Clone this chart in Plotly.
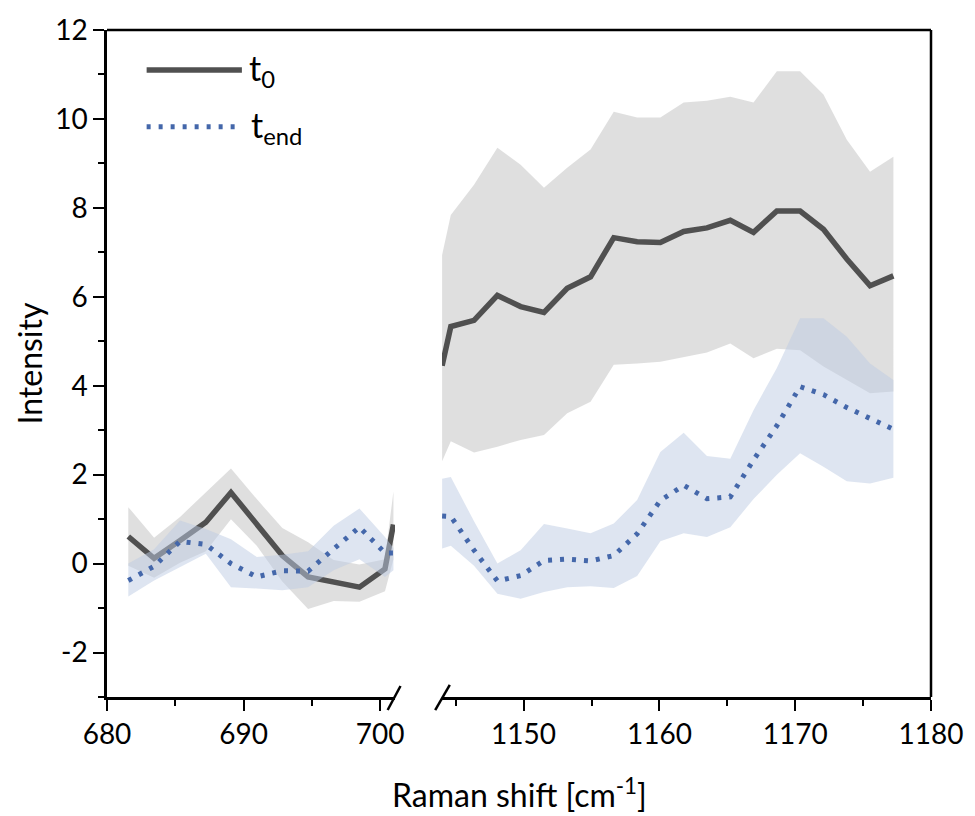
import plotly.graph_objects as go

# ---------------- data ----------------
# left panel (680-701 cm-1)
LX = [681.56, 683.45, 685.35, 687.24, 689.08, 690.97, 692.84, 694.73, 696.60, 698.49, 700.36, 700.98]
T0_L = [0.61, 0.12, 0.52, 0.93, 1.60, 0.88, 0.18, -0.30, -0.41, -0.53, -0.12, 0.88]
T0_L_UP = [1.27, 0.58, 1.05, 1.61, 2.14, 1.45, 0.80, 0.48, 0.08, -0.02, 0.10, 1.62]
T0_L_LO = [-0.05, -0.32, 0.02, 0.28, 1.00, 0.40, -0.40, -1.02, -0.84, -0.86, -0.62, 0.10]
TE_L = [-0.38, -0.06, 0.50, 0.43, 0.00, -0.30, -0.16, -0.17, 0.33, 0.82, 0.24, 0.24]
TE_L_UP = [0.00, 0.32, 0.97, 0.78, 0.55, 0.15, 0.20, 0.28, 0.85, 1.24, 0.60, 0.35]
TE_L_LO = [-0.74, -0.38, -0.08, 0.22, -0.53, -0.56, -0.60, -0.53, -0.15, 0.10, -0.30, -0.15]

# right panel (1144-1180 cm-1)
RX = [1144.00, 1144.64, 1146.35, 1148.07, 1149.78, 1151.50, 1153.21, 1154.93, 1156.64, 1158.36,
      1160.07, 1161.79, 1163.50, 1165.22, 1166.93, 1168.65, 1170.36, 1172.08, 1173.80, 1175.51, 1177.23]
T0_R = [4.45, 5.33, 5.47, 6.03, 5.78, 5.65, 6.19, 6.45, 7.33, 7.24,
        7.22, 7.47, 7.55, 7.72, 7.45, 7.93, 7.93, 7.52, 6.85, 6.25, 6.47]
T0_R_UP = [6.94, 7.84, 8.52, 9.35, 8.97, 8.45, 8.90, 9.31, 10.16, 10.03,
           10.03, 10.37, 10.41, 10.50, 10.37, 11.07, 11.07, 10.55, 9.53, 8.81, 9.15]
T0_R_LO = [2.30, 2.75, 2.50, 2.63, 2.78, 2.89, 3.38, 3.64, 4.47, 4.50,
           4.54, 4.65, 4.75, 4.95, 4.62, 4.83, 4.80, 4.43, 4.13, 3.83, 3.87]
TE_R = [1.07, 1.06, 0.30, -0.39, -0.27, 0.07, 0.10, 0.06, 0.18, 0.67,
        1.42, 1.76, 1.46, 1.50, 2.33, 3.10, 3.98, 3.80, 3.51, 3.28, 3.02]
TE_R_UP = [1.91, 1.95, 0.95, 0.00, 0.30, 0.89, 0.79, 0.68, 0.90, 1.43,
           2.51, 2.94, 2.42, 2.36, 3.45, 4.40, 5.52, 5.52, 5.10, 4.50, 4.13]
TE_R_LO = [0.34, 0.40, -0.05, -0.68, -0.79, -0.64, -0.53, -0.51, -0.55, -0.28,
           0.50, 0.68, 0.60, 0.82, 1.45, 2.00, 2.48, 2.18, 1.85, 1.80, 1.93]

Y_TICKS = [-2, 0, 2, 4, 6, 8, 10, 12]
Y_TICK_TEXT = ["-2", "0", "2", "4", "6", "8", "10", "12"]

# ---------------- styles ----------------
GRAY_LINE = "#505050"
BLUE_LINE = "#4467AA"
GRAY_FILL = "rgba(192,192,192,0.5)"
BLUE_FILL = "rgba(190,204,228,0.5)"
FONT = "Lato, 'Open Sans', sans-serif"
DOT = "4px,8px"

L_DOM = [0.0, 0.3496]
R_DOM = [0.4067, 1.0]

fig = go.Figure()


def band(x, up, lo, color, xa):
    fig.add_trace(go.Scatter(
        x=list(x) + list(x)[::-1], y=list(up) + list(lo)[::-1],
        fill="toself", fillcolor=color, mode="lines", line=dict(width=0),
        hoverinfo="skip", showlegend=False, xaxis=xa, yaxis="y"))


def line(x, y, color, dash, xa, width):
    fig.add_trace(go.Scatter(
        x=x, y=y, mode="lines", line=dict(color=color, width=width, dash=dash),
        showlegend=False, xaxis=xa, yaxis="y"))


band(LX, T0_L_UP, T0_L_LO, GRAY_FILL, "x")
band(RX, T0_R_UP, T0_R_LO, GRAY_FILL, "x2")
line(LX, T0_L, GRAY_LINE, "solid", "x", 5.5)
line(RX, T0_R, GRAY_LINE, "solid", "x2", 5.5)
band(LX, TE_L_UP, TE_L_LO, BLUE_FILL, "x")
band(RX, TE_R_UP, TE_R_LO, BLUE_FILL, "x2")
line(LX, TE_L, BLUE_LINE, DOT, "x", 5)
line(RX, TE_R, BLUE_LINE, DOT, "x2", 5)

axis_common = dict(
    showline=True, linecolor="black", linewidth=2.5,
    ticks="outside", ticklen=11, tickwidth=2, tickcolor="black",
    showgrid=False, zeroline=False,
    tickfont=dict(family=FONT, size=28, color="black"),
)

fig.update_layout(
    width=975, height=816,
    margin=dict(l=107, r=37, t=29, b=119),
    paper_bgcolor="white", plot_bgcolor="white",
    showlegend=False,
    xaxis=dict(domain=L_DOM, range=[680, 701.1], anchor="y", tick0=680, dtick=10,
               minor=dict(ticks="outside", ticklen=6, tickwidth=2, tickcolor="black", dtick=5, tick0=680),
               **axis_common),
    xaxis2=dict(domain=R_DOM, range=[1144.0, 1180.0], anchor="y", tick0=1150, dtick=10,
                minor=dict(ticks="outside", ticklen=6, tickwidth=2, tickcolor="black", dtick=5, tick0=1145),
                **axis_common),
    yaxis=dict(domain=[0, 1], range=[-3, 12], anchor="x", tickvals=Y_TICKS, ticktext=Y_TICK_TEXT,
               minor=dict(ticks="outside", ticklen=6, tickwidth=2, tickcolor="black", dtick=1, tick0=-3),
               **axis_common),
)

# frame (top and right) and axis-break marks
shapes = [
    dict(type="line", xref="paper", yref="paper", x0=0, x1=1, y0=1, y1=1,
         line=dict(color="black", width=2.5)),
    dict(type="line", xref="paper", yref="paper", x0=1, x1=1, y0=0, y1=1,
         line=dict(color="black", width=2.5)),
    dict(type="line", xref="paper", yref="paper", x0=L_DOM[1] - 0.009, x1=L_DOM[1] + 0.0066,
         y0=-0.0195, y1=0.0165, line=dict(color="black", width=2.5)),
    dict(type="line", xref="paper", yref="paper", x0=R_DOM[0] - 0.0084, x1=R_DOM[0] + 0.0093,
         y0=-0.0195, y1=0.018, line=dict(color="black", width=2.5)),
    # legend samples
    dict(type="line", xref="paper", yref="paper", x0=0.0481, x1=0.1637, y0=0.9401, y1=0.9401,
         line=dict(color=GRAY_LINE, width=5.5)),
    dict(type="line", xref="paper", yref="paper", x0=0.0481, x1=0.1637, y0=0.8548, y1=0.8548,
         line=dict(color=BLUE_LINE, width=5, dash=DOT)),
]
fig.update_layout(shapes=shapes)

annotations = [
    dict(text="Intensity", xref="paper", yref="paper", x=0, y=0.5, xshift=-78,
         textangle=-90, showarrow=False, xanchor="center", yanchor="middle",
         font=dict(family=FONT, size=32, color="black")),
    dict(text="Raman shift [cm<sup>-1</sup>]", xref="paper", yref="paper", x=0.5, y=0, yshift=-96,
         showarrow=False, xanchor="center", yanchor="middle",
         font=dict(family=FONT, size=32, color="black")),
    dict(text="t<sub>0</sub>", xref="paper", yref="paper", x=0.1697, y=0.9401,
         showarrow=False, xanchor="left", yanchor="middle",
         font=dict(family=FONT, size=34, color="black")),
    dict(text="t<sub>end</sub>", xref="paper", yref="paper", x=0.1721, y=0.8548,
         showarrow=False, xanchor="left", yanchor="middle",
         font=dict(family=FONT, size=34, color="black")),
]
fig.update_layout(annotations=annotations)

fig.write_html("out.html")
